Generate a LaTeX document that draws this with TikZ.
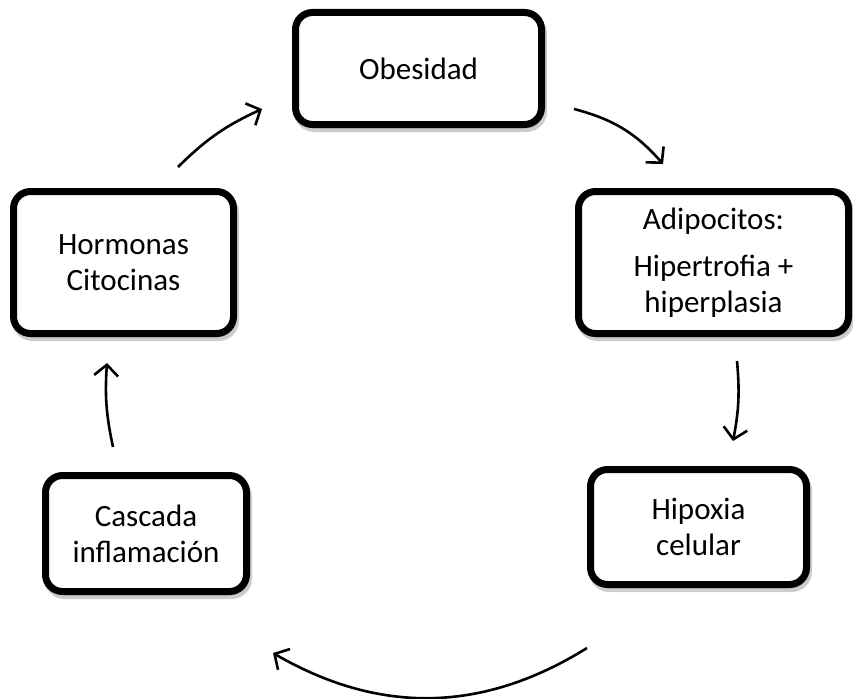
\documentclass[tikz,border=0pt]{standalone}
\usepackage{fontspec}
\setmainfont{Carlito}
\usetikzlibrary{arrows.meta,shadows}

\begin{document}
\begin{tikzpicture}[x=1pt,y=1pt,
    stage/.style={draw, fill=white, line width=7pt, rounded corners=17pt,
      align=center, inner sep=2pt, font=\fontsize{31}{36}\selectfont,
      drop shadow={shadow xshift=2pt, shadow yshift=-4pt, opacity=0.2,
        draw=black, line width=7pt}},
    cyclearrow/.style={line width=2.6pt, -{Straight Barb[length=11pt,width=24pt]}}]
    \useasboundingbox (0,0) rectangle (853,-698);

    % Stages of the cycle
    \node[stage, minimum width=246pt, minimum height=112pt] (obes) at (418.5,-68.5) {Obesidad};
    \node[stage, minimum width=270pt, minimum height=142pt] (adip) at (713.5,-262.5)
        {Adipocitos:\\[11pt]Hipertrofia +\\hiperplasia};
    \node[stage, minimum width=216pt, minimum height=115pt] (hipo) at (698.5,-527) {Hipoxia\\celular};
    \node[stage, minimum width=201pt, minimum height=116pt] (casc) at (146,-533.5) {Cascada\\inflamación};
    \node[stage, minimum width=220pt, minimum height=142pt] (horm) at (123.5,-262.5) {Hormonas\\Citocinas};

    % Arrows round the cycle
    \draw[cyclearrow] ([shift={(29,19)}]obes.south east) to[bend left=17] ([shift={(-50.5,24)}]adip.north);
    \draw[cyclearrow] ([shift={(23.5,-24)}]adip.south) to[bend left=8] ([shift={(34.5,25)}]hipo.north);
    \draw[cyclearrow] ([shift={(0,-60)}]hipo.south west) to[bend left=31] ([shift={(23,-58)}]casc.south east);
    \draw[cyclearrow] ([shift={(-33,25)}]casc.north) to[bend left=8] ([shift={(-16.5,-26)}]horm.south);
    \draw[cyclearrow] ([shift={(54.5,21)}]horm.north) to[bend left=10] ([shift={(-30,-40.5)}]obes.west);
\end{tikzpicture}
\end{document}
